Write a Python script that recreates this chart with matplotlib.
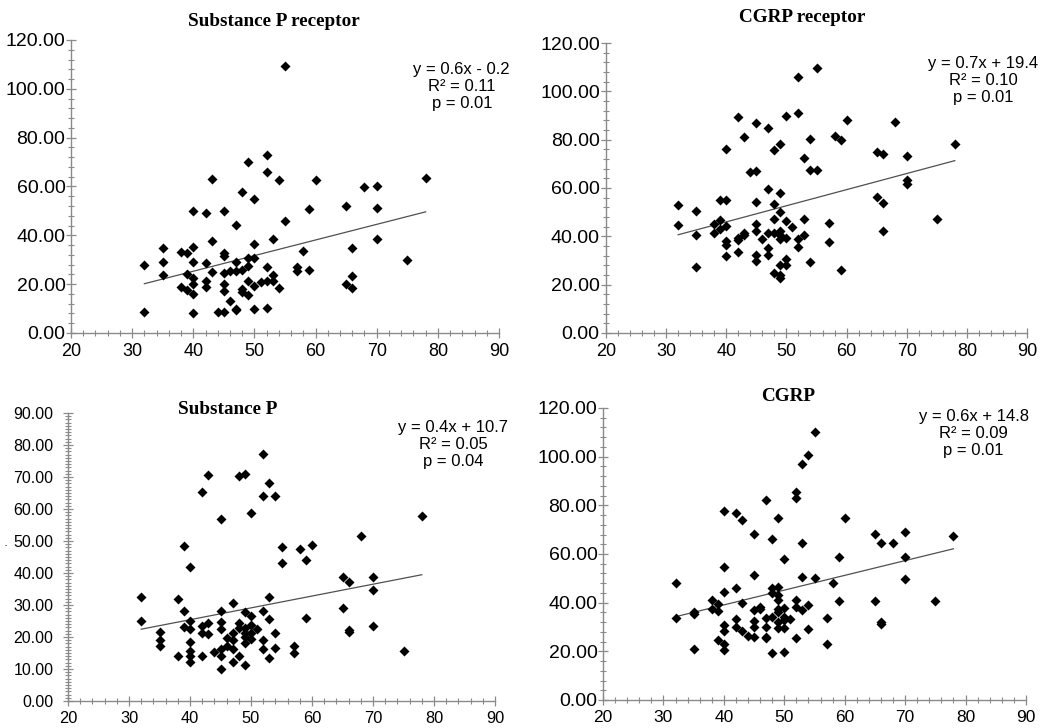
import numpy as np
import matplotlib.pyplot as plt
from matplotlib.ticker import MultipleLocator, FormatStrFormatter

# =============================================================================
# DATA (ages on x, one list of values per age)
# =============================================================================

sp_receptor_ages = [32, 35, 38, 39, 40, 42, 43, 44, 45, 46, 47, 48, 49, 50, 51,
                    52, 53, 54, 55, 57, 58, 59, 60, 65, 66, 68, 70, 75, 78]
sp_receptor_vals = [[28, 8.6], [35, 29, 23.7], [33, 18.7], [32.7, 24.3, 17.5],
                    [50, 35.3, 29, 22.5, 20, 15.8, 8.2], [49, 28.8, 21.5, 18.8],
                    [63.2, 37.7, 24.8], [8.6], [50, 32.7, 31.6, 24.5, 20.2, 17.2, 8.6],
                    [13, 25.2], [44.2, 29, 25.2, 9.8, 9.3], [57.7, 25.6, 18.1, 16.6],
                    [70, 30.7, 27.3, 21.4, 15.7], [54.8, 36.4, 30.7, 19.4, 9.8], [20.7],
                    [73.1, 65.8, 27, 21.1, 10.2], [38.5, 23.7, 21.1], [62.8, 18.3],
                    [109.3, 45.7], [27, 25.2], [33.4], [50.9, 25.8], [62.8], [52.1, 20],
                    [35, 23.2, 18.4], [59.6], [60.4, 51.3, 38.7], [30], [63.4]]

cgrp_receptor_ages = [32, 35, 38, 39, 40, 42, 43, 44, 45, 46, 47, 48, 49, 50, 51,
                      52, 53, 54, 55, 57, 58, 59, 60, 65, 66, 68, 70, 75, 78]
cgrp_receptor_vals = [[53, 44.6], [50.5, 40.6, 27.5], [45.1, 41.3], [55, 46.8, 42.9],
                      [76.1, 55, 44.3, 38.2, 36.5, 31.8], [89.3, 39.3, 38.5, 33.7],
                      [81.3, 41.5, 40.4], [66.6], [86.7, 66.9, 54.2, 45.1, 42.1, 32.2, 29.8],
                      [39.1], [84.9, 59.6, 41.3, 35.1, 32.2], [75.7, 53.4, 47.2, 41.3, 24.8],
                      [78.3, 58, 49.9, 42.1, 40.6, 39.1, 28.2, 23.9, 22.6],
                      [89.7, 46.4, 39.3, 30.8, 28.1], [43.9], [105.8, 91.2, 39.1, 35.6],
                      [72.5, 47, 40.6], [80.3, 67.4, 29.2], [109.8, 67.4], [45.5, 37.7],
                      [81.4], [80, 26.1], [88.3], [75.1, 56.3], [74.1, 53.6, 42.1], [87.2],
                      [73.3, 63.4, 61.5], [47.3], [78.3]]

sp_ages = [32, 35, 38, 39, 40, 42, 43, 44, 45, 46, 47, 48, 49, 50, 51,
           52, 53, 54, 55, 57, 58, 59, 60, 65, 66, 68, 70, 75, 78]
sp_vals = [[32.5, 25.1], [21.6, 19, 17.2], [31.9, 14.2], [48.4, 28.1, 23],
           [41.8, 25.1, 22.4, 18.3, 15.6, 14.2, 12.2], [65.3, 23.5, 21.4, 14],
           [70.5, 24.5, 20.9], [15.2], [56.9, 28.1, 24.8, 22.5, 16.3, 14.2, 10],
           [19.7, 17.3], [30.5, 21.1, 19, 16.1, 12.1], [70.4, 24.5, 22.9, 14.1],
           [70.8, 27.8, 22.7, 21.3, 20, 18.1, 11.4], [58.8, 26.7, 23.7, 21.1, 19.4],
           [22.5], [77.2, 64.1, 28.1, 19, 16.1], [68.2, 32.5, 25.6, 13.5],
           [64.1, 21.3, 16.6], [48.1, 43.2], [17.2, 15], [47.5], [44.2, 25.8], [48.6],
           [38.7, 29], [37.2, 22.1, 21.6], [51.7], [38.7, 34.7, 23.5], [15.6], [57.9]]

cgrp_ages = [32, 35, 38, 39, 40, 42, 43, 44, 45, 46, 47, 48, 49, 50, 51,
             52, 53, 54, 55, 57, 58, 59, 60, 65, 66, 68, 70, 75, 78]
cgrp_vals = [[47.9, 33.5], [36.3, 35.3, 21], [41.3, 37.2], [39.3, 36.4, 24.6],
             [77.7, 54.8, 44.5, 30.8, 28.4, 23.2, 20.7], [76.8, 45.9, 33.1, 30.1],
             [74, 40, 28.4], [26.5], [68.1, 51.4, 37, 32.3, 30.1, 26], [38.3, 37.5],
             [82.3, 33.9, 30.1, 26, 25.3], [66.1, 45.9, 43.8, 34.2, 19.5],
             [74.6, 46.6, 43.1, 41.3, 37.6, 36.3, 32.1, 29.4],
             [57.8, 37.9, 34.2, 32.8, 29.7, 19.8], [33.1], [85.4, 83, 41.3, 38.3, 25.3],
             [97, 64.7, 50.4, 37], [100.7, 39.1, 29], [110.2, 50], [33.9, 22.9], [48.2],
             [58.8, 40.8], [74.7], [68.4, 40.5], [64.4, 32.1, 31.2], [64.7],
             [69.1, 58.7, 49.9], [40.8], [67.4]]

# regression lines as drawn in the reference (slope, intercept)
fit_slopes = [0.64, 0.667, 0.37, 0.607]
fit_intercepts = [-0.3, 19.3, 10.6, 14.8]

titles = ["Substance P receptor", "CGRP receptor", "Substance P", "CGRP"]
stats = ["y = 0.6x - 0.2\nR² = 0.11\np = 0.01",
         "y = 0.7x + 19.4\nR² = 0.10\np = 0.01",
         "y = 0.4x + 10.7\nR² = 0.05\np = 0.04",
         "y = 0.6x + 14.8\nR² = 0.09\np = 0.01"]
y_max = [120, 120, 90, 120]
y_major = [20, 20, 10, 20]
y_minor = [4, 4, 1, 4]

# =============================================================================
# LAYOUT
# =============================================================================

W, H = 1044, 728

def px_box(x0, x1, y_top, y_bot):
    return [x0 / W, 1 - y_bot / H, (x1 - x0) / W, (y_bot - y_top) / H]

boxes = [px_box(71, 499, 40, 333),
         px_box(606, 1027, 43, 333),
         px_box(68, 495, 413, 701),
         px_box(603, 1026, 408, 700)]
title_pos = [(274, 21), (802, 18), (228, 409), (788, 397)]  # pixel centers
stat_pos = [(0.913, 0.925), (0.896, 0.955), (0.902, 0.975), (0.876, 0.995)]
y_pads = [0.5, 1.0, 7.0, 0.5]
x_pads = [4.0, 4.0, 3.5, 3.5]
y_label_sizes = [14, 14, 11.5, 14]
x_label_sizes = [13, 13, 11.8, 12.5]

panels = [(sp_receptor_ages, sp_receptor_vals),
          (cgrp_receptor_ages, cgrp_receptor_vals),
          (sp_ages, sp_vals),
          (cgrp_ages, cgrp_vals)]

plt.rcParams['font.family'] = ['Liberation Sans', 'DejaVu Sans']
axis_c = "#8a8a8a"

fig = plt.figure(figsize=(W / 100, H / 100), dpi=100)

for i, (ages, vals) in enumerate(panels):
    x = np.concatenate([[a] * len(v) for a, v in zip(ages, vals)])
    y = np.concatenate(vals)

    ax = fig.add_axes(boxes[i])
    ax.scatter(x, y, marker="D", s=26, c="black", linewidths=0, zorder=3)

    xl = np.array([x.min(), x.max()])
    ax.plot(xl, fit_slopes[i] * xl + fit_intercepts[i], c="#505050", lw=0.9, zorder=2)

    ax.set_xlim(20, 90)
    ax.set_ylim(0, y_max[i])
    ax.xaxis.set_major_locator(MultipleLocator(10))
    ax.xaxis.set_minor_locator(MultipleLocator(2))
    ax.yaxis.set_major_locator(MultipleLocator(y_major[i]))
    ax.yaxis.set_minor_locator(MultipleLocator(y_minor[i]))
    ax.yaxis.set_major_formatter(FormatStrFormatter("%.2f"))

    for s in ["top", "right"]:
        ax.spines[s].set_visible(False)
    for s in ["left", "bottom"]:
        ax.spines[s].set_color(axis_c)
        ax.spines[s].set_linewidth(1.0)

    ax.tick_params(which="major", direction="inout", length=7, width=0.9, color=axis_c)
    ax.tick_params(which="minor", direction="inout", length=5, width=0.8, color=axis_c)
    ax.tick_params(axis="y", labelsize=y_label_sizes[i], pad=y_pads[i])
    ax.tick_params(axis="x", labelsize=x_label_sizes[i], pad=x_pads[i])

    ax.text(stat_pos[i][0], stat_pos[i][1], stats[i], transform=ax.transAxes,
            ha="center", va="top", fontsize=12, linespacing=1.15)

    tx, ty = title_pos[i]
    fig.text(tx / W, 1 - ty / H, titles[i], ha="center", va="center",
             fontsize=13.8, fontweight="bold", family="Liberation Serif")

# small stray dot left of the 50.00 label in the reference
fig.text(6 / W, 1 - 546 / H, "·", ha="center", va="center", fontsize=9)

fig.savefig("out.png", dpi=100)
